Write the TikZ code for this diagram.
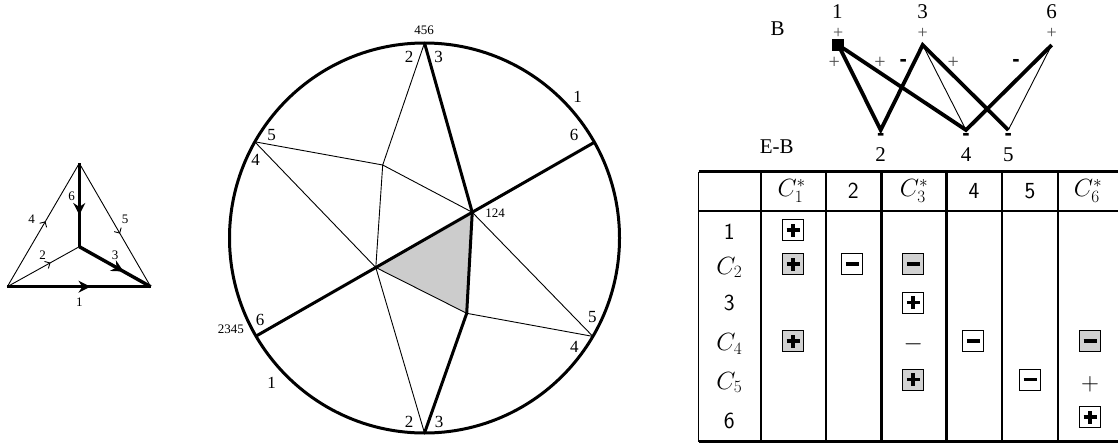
\documentclass[tikz,border=0pt]{standalone}
\usepackage{fontspec}
\setmainfont{Liberation Serif}
\newfontfamily\signfont{Liberation Sans}
\usetikzlibrary{arrows.meta,decorations.markings,calc}
\definecolor{boxgray}{gray}{0.82}
\definecolor{facegray}{gray}{0.8}

\begin{document}
\begin{tikzpicture}[x=1pt,y=-1pt,
  lbl/.style={inner sep=0pt,font=\fontsize{13}{13}\selectfont},
  big/.style={inner sep=0pt,font=\fontsize{17}{17}\selectfont},
  huge/.style={inner sep=0pt,font=\fontsize{21}{21}\selectfont},
  pm/.style={inner sep=0pt,text=black!70,font=\fontsize{20}{20}\selectfont},
  mn/.style={inner sep=0pt,font=\fontsize{22}{22}\signfont\bfseries},
  thinline/.style={line width=0.9pt},
  fatline/.style={line width=3.4pt},
  midtip/.style={postaction={decorate},decoration={markings,mark=at position #1 with {\arrow{Stealth[length=12pt,width=12pt]}}}},
  midbarb/.style={postaction={decorate},decoration={markings,mark=at position #1 with {\arrow{Straight Barb[length=4pt,width=8pt]}}}},
  sgn/.style={draw,line width=0.8pt,minimum size=21pt,inner sep=0pt},
  pbox/.style={sgn,path picture={\draw[line width=3.8pt]
    ([xshift=-6.5pt]path picture bounding box.center) -- ([xshift=6.5pt]path picture bounding box.center)
    ([yshift=-6.5pt]path picture bounding box.center) -- ([yshift=6.5pt]path picture bounding box.center);}},
  mbox/.style={sgn,path picture={\draw[line width=3.8pt]
    ([xshift=-6.5pt]path picture bounding box.center) -- ([xshift=6.5pt]path picture bounding box.center);}},
  cell/.style={inner sep=0pt,font=\fontsize{23}{23}\sffamily}]
  \useasboundingbox (0,0) rectangle (1118,444);

  % small directed graph
  \coordinate (gt) at (79.3,163.3);
  \coordinate (gl) at (7.3,286.7);
  \coordinate (gr) at (150.7,286.7);
  \coordinate (gc) at (79.3,246.7);
  \draw[thinline,midbarb=0.53] (gl) -- (gt);
  \draw[thinline,midbarb=0.57] (gt) -- (gr);
  \draw[thinline,midbarb=0.6] (gl) -- (gc);
  \draw[fatline,midtip=0.58] (gl) -- (gr);
  \draw[fatline,midtip=0.62] (gt) -- (gc);
  \draw[fatline,midtip=0.62] (gc) -- (gr);
  \node[lbl] (g1) at (79.3,302) {1};
  \node[lbl] (g2) at (42.7,255) {2};
  \node[lbl] (g3) at (115,255) {3};
  \node[lbl] (g4) at (31.7,219) {4};
  \node[lbl] (g5) at (125,219) {5};
  \node[lbl] (g6) at (71.7,196) {6};

  % circle
  \coordinate (O) at (424.5,238);
  \coordinate (T) at (424.5,43);
  \coordinate (Bt) at (424.5,433);
  \coordinate (UR) at (594.4,142.3);
  \coordinate (UL) at (254.8,141.8);
  \coordinate (LL) at (256,336.1);
  \coordinate (LR) at (592.9,336.4);
  \coordinate (P) at ($(UR)!0.361!(LL)$);
  \coordinate (R) at ($(UR)!0.646!(LL)$);
  \coordinate (Q) at (382.7,165);
  \coordinate (S) at (466.7,313.3);
  \fill[facegray] (R) -- (P) -- (S) -- cycle;
  \draw[thinline] (T) -- (Q) -- (R) -- (Bt);
  \draw[thinline] (UL) -- (Q) -- (P) -- (LR);
  \draw[thinline] (UL) -- (R) -- (S) -- (LR);
  \draw[line width=3pt] (T) -- (P) -- (S) -- (Bt);
  \draw[line width=3pt] (UR) -- (LL);
  \draw[line width=3pt] (O) circle (195pt);
  \node[lbl] (c456) at (424,30.5) {456};
  \node[big] (ct2) at (409,57) {2};
  \node[big] (ct3) at (438.5,57) {3};
  \node[big] (cur1) at (577.7,96.7) {1};
  \node[big] (cur6) at (574,135) {6};
  \node[big] (cul5) at (271.7,135) {5};
  \node[big] (cul4) at (255.7,160) {4};
  \node[lbl] (c124) at (495,213.3) {124};
  \node[lbl,anchor=east] (c2345) at (244,329.3) {2345};
  \node[big] (cll6) at (260,320) {6};
  \node[big] (cll1) at (271.7,383.3) {1};
  \node[big] (clr5) at (592.3,316.7) {5};
  \node[big] (clr4) at (574.3,347.3) {4};
  \node[big] (cb2) at (409,421.7) {2};
  \node[big] (cb3) at (439,421.7) {3};

  % bipartite graph
  \node[fill,minimum size=12pt,inner sep=0pt] (b1) at (838.3,45) {};
  \coordinate (b3) at (922.7,45);
  \coordinate (b6) at (1051.7,45);
  \coordinate (b2) at (880.7,130);
  \coordinate (b4) at (966,130);
  \coordinate (b5) at (1008.3,130);
  \draw[thinline] (b3) -- (b4) (b6) -- (b5);
  \draw[line width=3.8pt] (b1.center) -- (b2) -- (b3) -- (b5);
  \draw[line width=3.8pt] (b1.center) -- (b4) -- (b6);
  \node[huge] (tB) at (777.7,28.3) {B};
  \node[huge] (tEB) at (776.7,146.7) {E-B};
  \node[huge] (t1) at (837.3,12) {1};
  \node[huge] (t3) at (922.7,12) {3};
  \node[huge] (t6) at (1051.7,12) {6};
  \node[huge] (t2) at (880.7,155) {2};
  \node[huge] (t4) at (966,155) {4};
  \node[huge] (t5) at (1008.3,155) {5};
  \foreach \x/\n in {838.3/1,922.7/3,1051.7/6}
    \node[pm,font=\fontsize{18}{18}\selectfont] (p\n) at (\x,33) {+};
  \foreach \x/\n in {880.7/2,966/4,1008.3/5}
    \node[mn] (m\n) at (\x,137) {-};
  \node[pm] (e12) at (834.3,63.3) {+};
  \node[pm] (e14) at (880,63.3) {+};
  \node[pm] (e35) at (953.3,63.3) {+};
  \node[mn] (e32) at (903.3,63.3) {-};
  \node[mn] (e64) at (1016,63.3) {-};

  % table
  \draw[line width=3pt] (698.5,171.7) -- (1118,171.7);
  \draw[line width=3.2pt] (698.5,441.7) -- (1118,441.7);
  \draw[line width=1.7pt] (698.5,210.7) -- (1118,210.7);
  \foreach \x in {698.5,761,826,1001.7,1057.7}
    \draw[line width=1.9pt] (\x,171.7) -- (\x,441.7);
  \foreach \x in {881.7,946.7}
    \draw[line width=2.9pt] (\x,171.7) -- (\x,441.7);
  \node[cell] (h1) at (791.7,191) {$C_1^*$};
  \node[cell] (h2) at (853.3,191) {2};
  \node[cell] (h3) at (914,191) {$C_3^*$};
  \node[cell] (h4) at (974,191) {4};
  \node[cell] (h5) at (1030,191) {5};
  \node[cell] (h6) at (1088,191) {$C_6^*$};
  \node[cell] (r1) at (729.3,231.7) {1};
  \node[cell] (r2) at (729.3,267.5) {$C_2$};
  \node[cell] (r3) at (729.3,303) {3};
  \node[cell] (r4) at (729.3,344) {$C_4$};
  \node[cell] (r5) at (729.3,382.5) {$C_5$};
  \node[cell] (r6) at (729.3,421) {6};
  \node[pbox] (s11) at (793,230) {};
  \node[pbox,fill=boxgray] (s21) at (793,264) {};
  \node[mbox] (s22) at (852.3,264) {};
  \node[mbox,fill=boxgray] (s23) at (913.3,264) {};
  \node[pbox] (s33) at (913.3,302.5) {};
  \node[pbox,fill=boxgray] (s41) at (793,341.3) {};
  \node[cell] (s43) at (913.3,344) {$-$};
  \node[mbox] (s44) at (973.3,341.3) {};
  \node[mbox,fill=boxgray] (s46) at (1090,341.3) {};
  \node[pbox,fill=boxgray] (s53) at (913.3,379.5) {};
  \node[mbox] (s55) at (1030,379.5) {};
  \node[cell] (s56) at (1090,384) {$+$};
  \node[pbox] (s66) at (1090,417) {};
\end{tikzpicture}
\end{document}
